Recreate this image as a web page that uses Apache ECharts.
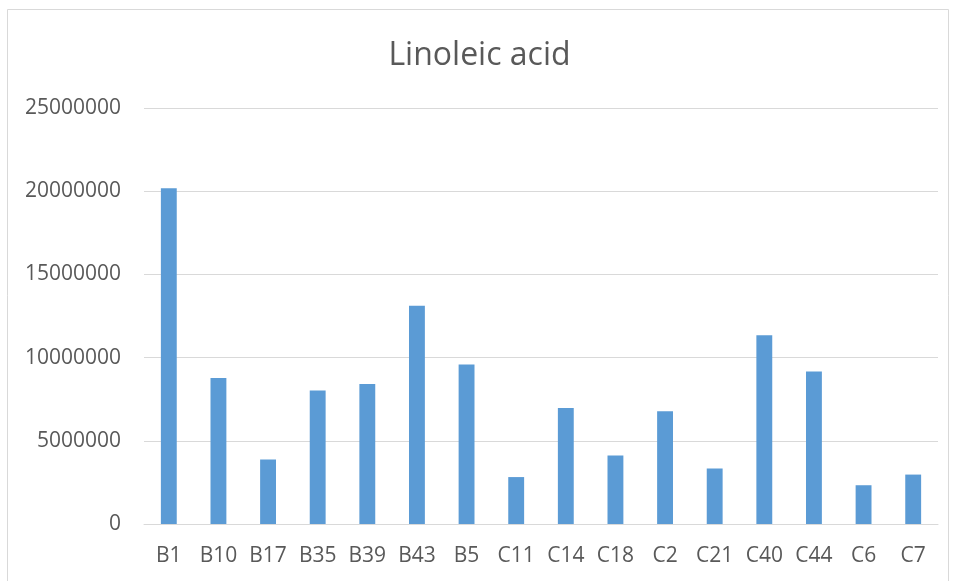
<!DOCTYPE html>
<html>
<head>
<meta charset="utf-8">
<script src="https://cdn.jsdelivr.net/npm/echarts@6/dist/echarts.min.js"></script>
<style>
  html, body { margin: 0; padding: 0; background: #fff; }
  #chart { width: 959px; height: 581px; }
</style>
</head>
<body>
<div id="chart"></div>
<script>
// Sample names along the x axis
const samples = ['B1', 'B10', 'B17', 'B35', 'B39', 'B43', 'B5', 'C11', 'C14', 'C18', 'C2', 'C21', 'C40', 'C44', 'C6', 'C7'];
// Linoleic acid peak area per sample
const linoleic = [20170000, 8770000, 3870000, 8030000, 8410000, 13120000, 9580000, 2820000, 6970000, 4110000, 6770000, 3330000, 11340000, 9160000, 2330000, 2970000];
// Value axis range
const yMin = 0;
const yMax = 25000000;
const yStep = 5000000;

const textColor = '#595959';
const fontFamily = '"Open Sans", "Liberation Sans", sans-serif';

const chart = echarts.init(document.getElementById('chart'), null, { renderer: 'canvas' });
chart.setOption({
  backgroundColor: '#ffffff',
  animation: false,
  title: {
    text: 'Linoleic acid',
    left: 'center',
    top: 35,
    textStyle: { color: textColor, fontSize: 32, fontWeight: 'normal', fontFamily: fontFamily }
  },
  graphic: [{
    type: 'rect',
    shape: { x: 7.5, y: 9.5, width: 941, height: 600 },
    style: { fill: 'none', stroke: '#d9d9d9', lineWidth: 1 },
    silent: true
  }],
  grid: { left: 144, right: 21, top: 108, bottom: 57, containLabel: false },
  xAxis: {
    type: 'category',
    data: samples,
    axisLine: { show: true, lineStyle: { color: '#d9d9d9', width: 1 } },
    axisTick: { show: false },
    axisLabel: { color: textColor, fontSize: 21, fontFamily: fontFamily, margin: 22 }
  },
  yAxis: {
    type: 'value',
    min: yMin,
    max: yMax,
    interval: yStep,
    axisLine: { show: false },
    axisTick: { show: false },
    splitLine: { lineStyle: { color: '#d9d9d9', width: 1 } },
    axisLabel: {
      color: textColor, fontSize: 21, fontFamily: fontFamily, margin: 23,
      formatter: function (v) { return String(v); }
    }
  },
  series: [{
    type: 'bar',
    data: linoleic,
    barWidth: '32%',
    itemStyle: { color: '#5b9bd5' }
  }]
});
</script>
</body>
</html>
